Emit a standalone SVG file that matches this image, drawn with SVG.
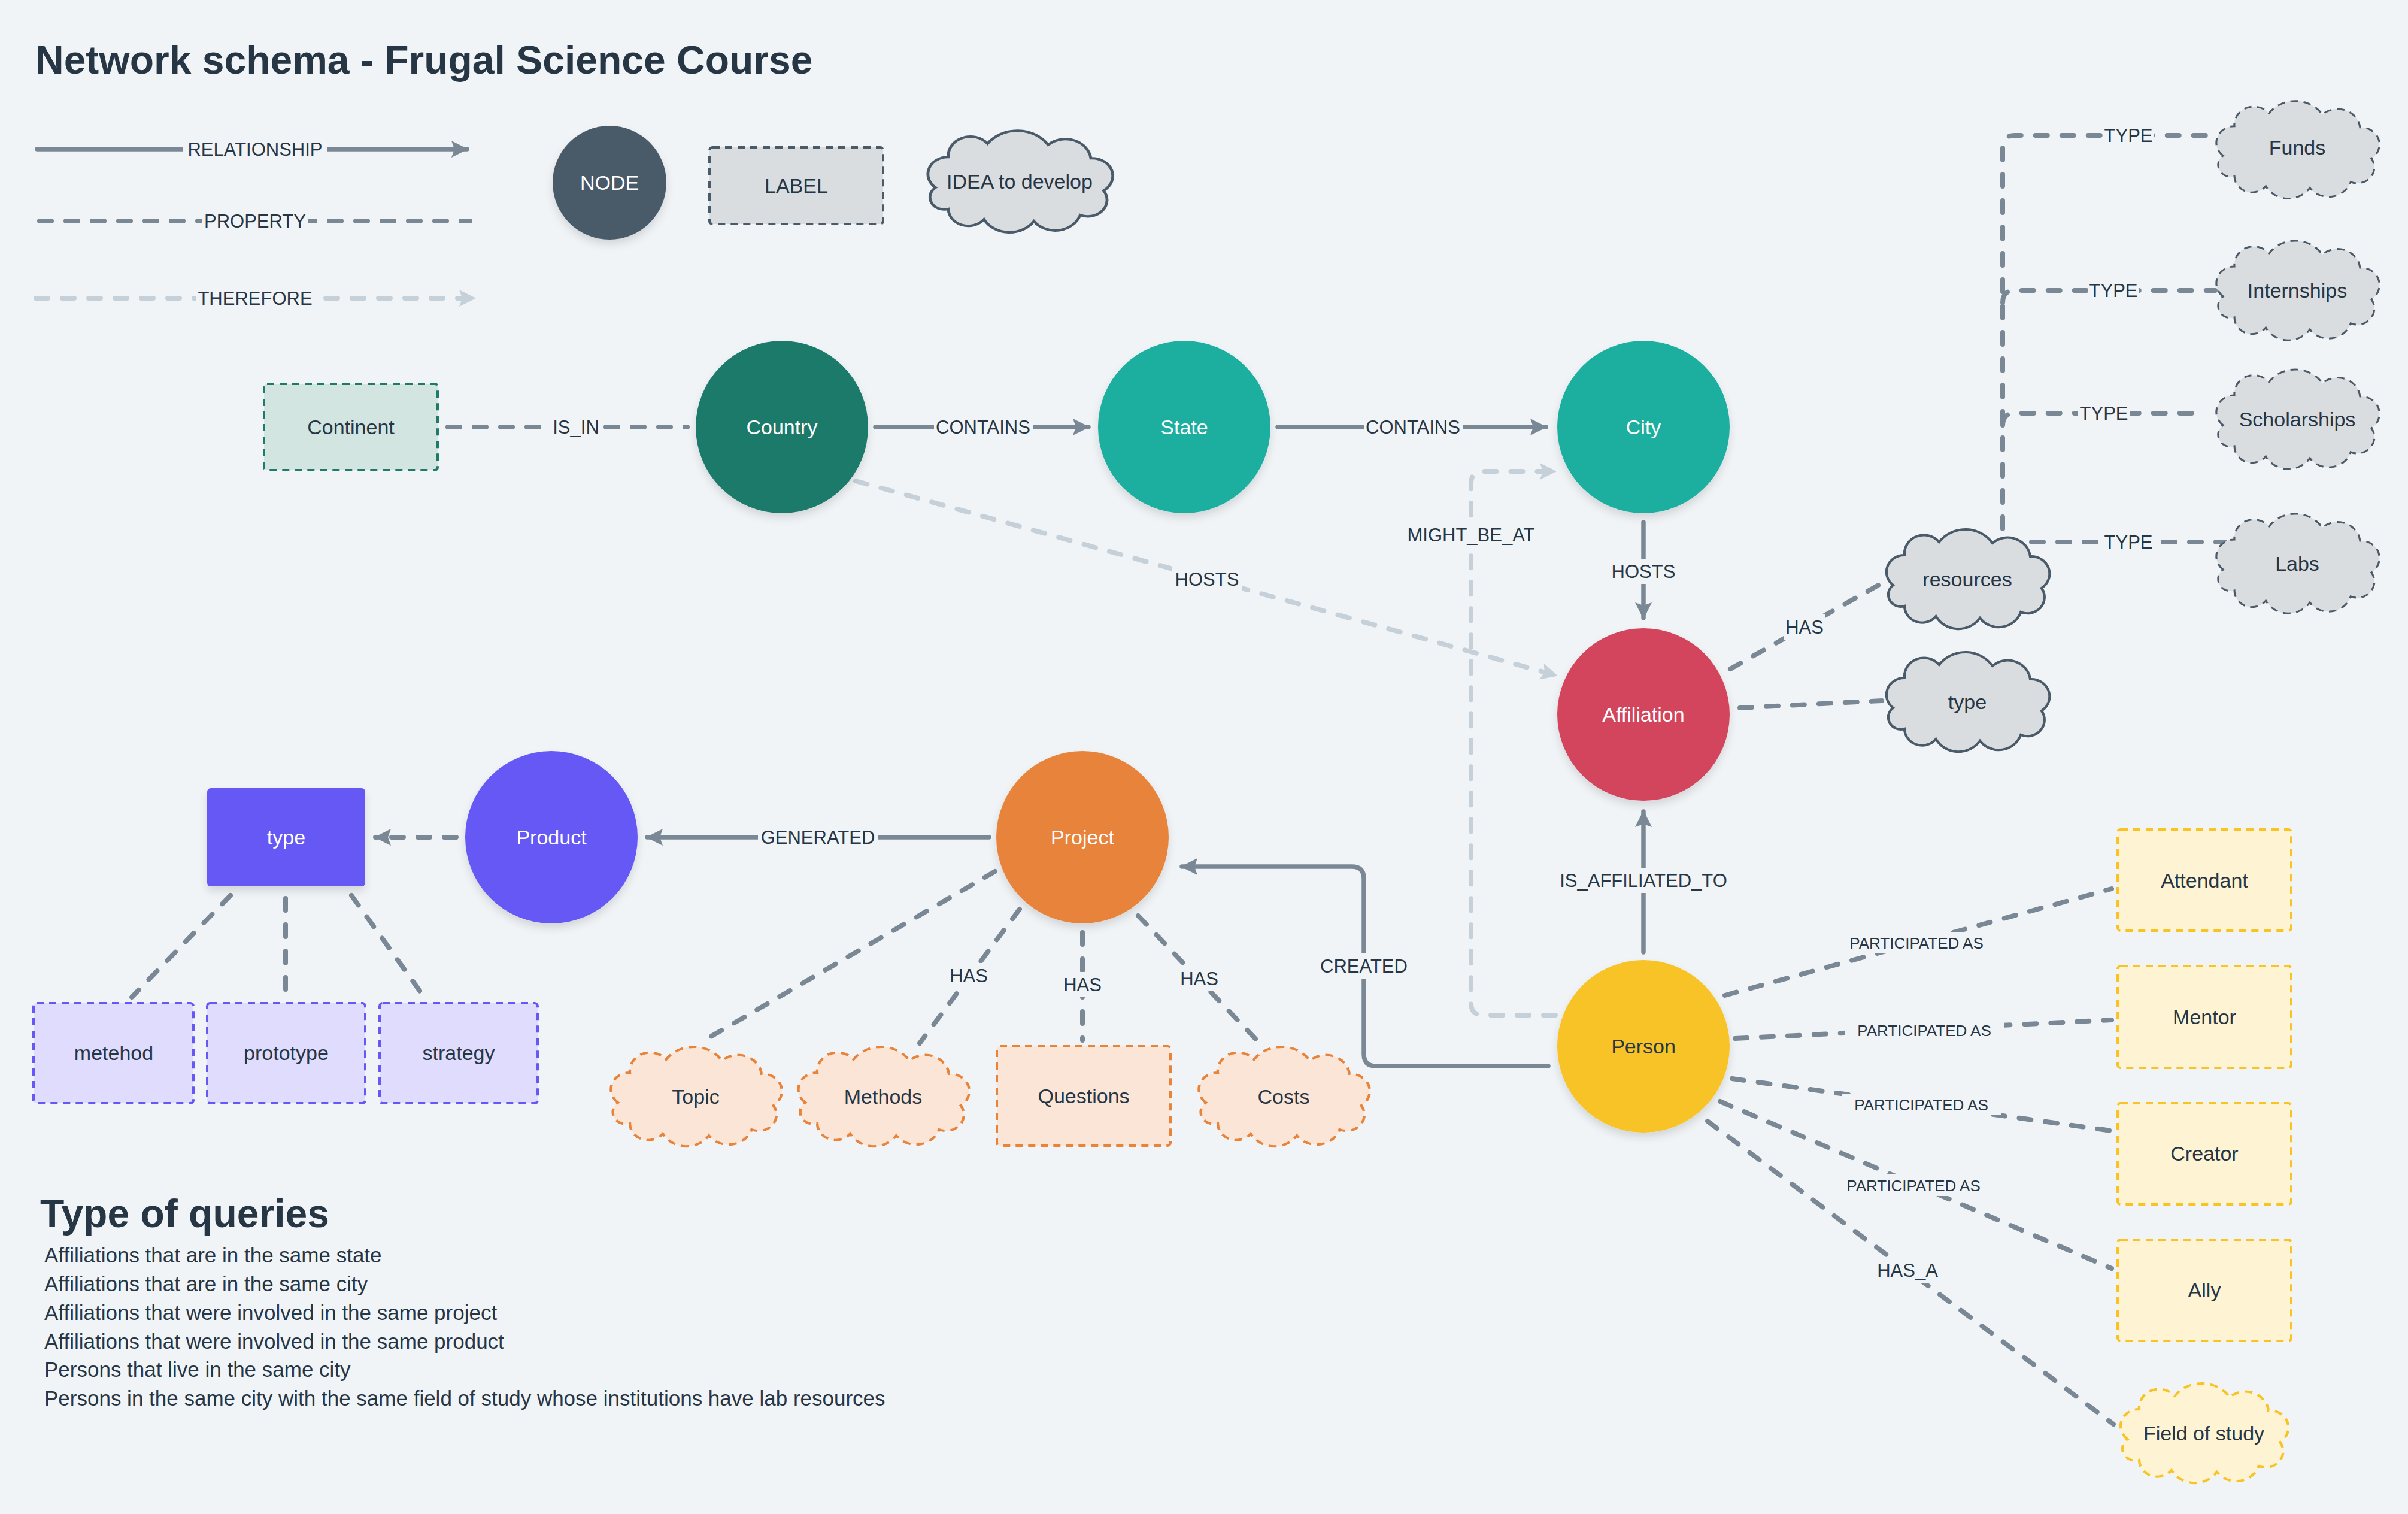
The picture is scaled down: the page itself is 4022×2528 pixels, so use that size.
<svg xmlns="http://www.w3.org/2000/svg" width="4022" height="2528" viewBox="0 0 4022 2528">
<style>
.t{font-family:"Liberation Sans",Arial,sans-serif;fill:#263645}
.el{font-size:31px;text-anchor:middle}
.ps{font-size:26px;text-anchor:middle}
.nt{font-size:34px;text-anchor:middle}
.q{font-size:35px}
.w{fill:#ffffff}
.lbg{fill:#f1f4f7}
.rel{stroke:#7a8896;stroke-width:7.5;fill:none;stroke-linecap:round}
.prop{stroke:#7a8896;stroke-width:8;fill:none;stroke-linecap:round;stroke-dasharray:20 24}
.ther{stroke:#c5d0d9;stroke-width:8;fill:none;stroke-linecap:round;stroke-dasharray:20 24}
.gcs{fill:#dadde0;stroke:#4a5a69;stroke-width:4}
.gcd{fill:#dadde0;stroke:#4a5a69;stroke-width:3;stroke-dasharray:12 9}
.ocd{fill:#fbe5d7;stroke:#e8833a;stroke-width:4;stroke-dasharray:12 9}
.ycd{fill:#fef3d3;stroke:#f7c325;stroke-width:4;stroke-dasharray:12 9}
.prd{fill:#e0dcfd;stroke:#6558f5;stroke-width:4;stroke-dasharray:12 9}
.yrd{fill:#fef3d3;stroke:#f7c325;stroke-width:4;stroke-dasharray:12 9}
.ord{fill:#fbe5d7;stroke:#e8833a;stroke-width:4;stroke-dasharray:12 9}
.sh{filter:url(#shadow)}
</style>
<defs>
<filter id="shadow" x="-20%" y="-20%" width="140%" height="150%">
<feDropShadow dx="0" dy="8" stdDeviation="7" flood-color="#000" flood-opacity="0.12"/>
</filter>
<path id="cloud" d="M-118,10 A28,28 0 0 1 -100,-40 A31,31 0 0 1 -45,-62 A52,52 0 0 1 40,-60 A36,36 0 0 1 100,-38 A29,29 0 0 1 118,15 A27,27 0 0 1 85,55 A37,37 0 0 1 20,65 A41,41 0 0 1 -50,62 A28,28 0 0 1 -100,45 A20,20 0 0 1 -118,10 Z"/>
<marker id="ar" markerUnits="userSpaceOnUse" markerWidth="30" markerHeight="30" viewBox="0 0 30 30" refX="26" refY="15" orient="auto">
<path d="M0,1 L28,15 L0,29 L5,15 Z" fill="#7a8896"/>
</marker>
<marker id="at" markerUnits="userSpaceOnUse" markerWidth="30" markerHeight="30" viewBox="0 0 30 30" refX="26" refY="15" orient="auto">
<path d="M0,1 L28,15 L0,29 L5,15 Z" fill="#c5d0d9"/>
</marker>
</defs>
<rect width="4022" height="2528" fill="#f1f4f7"/>

<text class="t" x="59" y="123" font-size="66" font-weight="bold">Network schema - Frugal Science Course</text>

<g id="legend">
<line class="rel" x1="62" y1="249" x2="780" y2="249" marker-end="url(#ar)"/>
<rect class="lbg" x="305" y="228" width="242" height="42"/>
<text class="t el" x="426" y="260">RELATIONSHIP</text>
<line class="prop" x1="66" y1="369" x2="785" y2="369"/>
<rect class="lbg" x="338" y="348" width="176" height="42"/>
<text class="t el" x="426" y="380">PROPERTY</text>
<line class="ther" x1="60" y1="498" x2="793" y2="498" marker-end="url(#at)"/>
<rect class="lbg" x="328" y="477" width="196" height="42"/>
<text class="t el" x="426" y="509">THEREFORE</text>
<g id="legend-node"><circle class="sh" cx="1018" cy="305" r="95" fill="#4a5a69"/><text class="t nt w" x="1018" y="317">NODE</text></g>
<g id="legend-label"><rect x="1185" y="246" width="290" height="128" rx="5" fill="#dadde0" stroke="#4a5a69" stroke-width="4" stroke-dasharray="12 9"/><text class="t nt" x="1330" y="322">LABEL</text></g>
<g id="legend-idea"><use href="#cloud" class="gcs" transform="translate(1703,303) scale(1.19,1.02)"/><text class="t nt" x="1703" y="315">IDEA to develop</text></g>
</g>

<g id="connectors">
<line class="prop" x1="748" y1="713" x2="1148" y2="713"/>
<rect class="lbg" x="920" y="692" width="86" height="42"/>
<text class="t el" x="962" y="724">IS_IN</text>
<line class="rel" x1="1462" y1="713" x2="1818" y2="713" marker-end="url(#ar)"/>
<rect class="lbg" x="1560" y="692" width="166" height="42"/>
<text class="t el" x="1642" y="724">CONTAINS</text>
<line class="rel" x1="2134" y1="713" x2="2582" y2="713" marker-end="url(#ar)"/>
<rect class="lbg" x="2278" y="692" width="166" height="42"/>
<text class="t el" x="2360" y="724">CONTAINS</text>
<line class="ther" x1="1429" y1="803" x2="2600" y2="1128" marker-end="url(#at)"/>
<rect class="lbg" x="1958" y="946" width="116" height="42"/>
<text class="t el" x="2016" y="978">HOSTS</text>
<line class="rel" x1="2745" y1="872" x2="2745" y2="1032" marker-end="url(#ar)"/>
<rect class="lbg" x="2688" y="933" width="114" height="42"/>
<text class="t el" x="2745" y="965">HOSTS</text>
<path class="ther" d="M2598,1695 H2477 Q2457,1695 2457,1675 V807 Q2457,787 2477,787 H2598" marker-end="url(#at)"/>
<rect class="lbg" x="2345" y="872" width="224" height="42"/>
<text class="t el" x="2457" y="904">MIGHT_BE_AT</text>
<line class="prop" x1="2890" y1="1117" x2="3148" y2="971"/>
<rect class="lbg" x="2980" y="1026" width="68" height="42"/>
<text class="t el" x="3014" y="1058">HAS</text>
<line class="prop" x1="2906" y1="1182" x2="3143" y2="1170"/>
<path class="prop" d="M3345,883 V246 Q3345,226 3365,226 H3700"/>
<path class="prop" d="M3345,505 Q3345,485 3365,485 H3700"/>
<path class="prop" d="M3345,710 Q3345,690 3365,690 H3680"/>
<line class="prop" x1="3393" y1="905" x2="3716" y2="905"/>
<rect class="lbg" x="3512" y="205" width="86" height="42"/>
<text class="t el" x="3555" y="237">TYPE</text>
<rect class="lbg" x="3487" y="464" width="86" height="42"/>
<text class="t el" x="3530" y="496">TYPE</text>
<rect class="lbg" x="3471" y="669" width="86" height="42"/>
<text class="t el" x="3514" y="701">TYPE</text>
<rect class="lbg" x="3512" y="884" width="86" height="42"/>
<text class="t el" x="3555" y="916">TYPE</text>
<line class="rel" x1="2745" y1="1590" x2="2745" y2="1355" marker-end="url(#ar)"/>
<rect class="lbg" x="2590" y="1449" width="310" height="42"/>
<text class="t el" x="2745" y="1481">IS_AFFILIATED_TO</text>
<path class="rel" d="M2586,1780 H2298 Q2278,1780 2278,1760 V1467 Q2278,1447 2258,1447 H1974" marker-end="url(#ar)"/>
<rect class="lbg" x="2200" y="1592" width="156" height="42"/>
<text class="t el" x="2278" y="1624">CREATED</text>
<line class="rel" x1="1652" y1="1398" x2="1081" y2="1398" marker-end="url(#ar)"/>
<rect class="lbg" x="1266" y="1377" width="200" height="42"/>
<text class="t el" x="1366" y="1409">GENERATED</text>
<line class="prop" x1="762" y1="1398" x2="627" y2="1398" marker-end="url(#ar)"/>
<line class="prop" x1="385" y1="1495" x2="220" y2="1665"/>
<line class="prop" x1="477" y1="1500" x2="477" y2="1652"/>
<line class="prop" x1="587" y1="1495" x2="705" y2="1660"/>
<line class="prop" x1="1662" y1="1455" x2="1180" y2="1735"/>
<line class="prop" x1="1703" y1="1518" x2="1536" y2="1742"/>
<line class="prop" x1="1808" y1="1557" x2="1808" y2="1737"/>
<line class="prop" x1="1901" y1="1529" x2="2104" y2="1742"/>
<rect class="lbg" x="1584" y="1608" width="68" height="42"/>
<text class="t el" x="1618" y="1640">HAS</text>
<rect class="lbg" x="1774" y="1623" width="68" height="42"/>
<text class="t el" x="1808" y="1655">HAS</text>
<rect class="lbg" x="1969" y="1613" width="68" height="42"/>
<text class="t el" x="2003" y="1645">HAS</text>
<line class="prop" x1="2881" y1="1662" x2="3527" y2="1484"/>
<line class="prop" x1="2898" y1="1734" x2="3527" y2="1703"/>
<line class="prop" x1="2893" y1="1801" x2="3527" y2="1888"/>
<line class="prop" x1="2873" y1="1839" x2="3527" y2="2118"/>
<line class="prop" x1="2852" y1="1872" x2="3530" y2="2378"/>
<rect class="lbg" x="3068" y="1556" width="266" height="36"/>
<text class="t ps" x="3201" y="1584">PARTICIPATED AS</text>
<rect class="lbg" x="3081" y="1702" width="266" height="36"/>
<text class="t ps" x="3214" y="1730">PARTICIPATED AS</text>
<rect class="lbg" x="3076" y="1826" width="266" height="36"/>
<text class="t ps" x="3209" y="1854">PARTICIPATED AS</text>
<rect class="lbg" x="3063" y="1961" width="266" height="36"/>
<text class="t ps" x="3196" y="1989">PARTICIPATED AS</text>
<rect class="lbg" x="3130" y="2100" width="112" height="42"/>
<text class="t el" x="3186" y="2132">HAS_A</text>
</g>

<g id="n-continent"><rect x="441" y="641" width="290" height="144" rx="5" fill="#d2e5e0" stroke="#1f7a6a" stroke-width="4" stroke-dasharray="12 9"/><text class="t nt" x="586" y="725">Continent</text></g>
<g id="n-country"><circle class="sh" cx="1306" cy="713" r="144" fill="#1f7a6a"/><text class="t nt w" x="1306" y="725">Country</text></g>
<g id="n-state"><circle class="sh" cx="1978" cy="713" r="144" fill="#1aae9f"/><text class="t nt w" x="1978" y="725">State</text></g>
<g id="n-city"><circle class="sh" cx="2745" cy="713" r="144" fill="#1aae9f"/><text class="t nt w" x="2745" y="725">City</text></g>
<g id="n-affiliation"><circle class="sh" cx="2745" cy="1193" r="144" fill="#d3455b"/><text class="t nt w" x="2745" y="1205">Affiliation</text></g>
<g id="n-person"><circle class="sh" cx="2745" cy="1747" r="144" fill="#f7c325"/><text class="t nt" x="2745" y="1759">Person</text></g>
<g id="n-project"><circle class="sh" cx="1808" cy="1398" r="144" fill="#e8833a"/><text class="t nt w" x="1808" y="1410">Project</text></g>
<g id="n-product"><circle class="sh" cx="921" cy="1398" r="144" fill="#6558f5"/><text class="t nt w" x="921" y="1410">Product</text></g>
<g id="n-ptype"><rect class="sh" x="346" y="1316" width="264" height="164" rx="6" fill="#6558f5"/><text class="t nt w" x="478" y="1410">type</text></g>
<g id="n-metehod"><rect class="prd" x="56" y="1675" width="267" height="167" rx="5"/><text class="t nt" x="190" y="1770">metehod</text></g>
<g id="n-prototype"><rect class="prd" x="346" y="1675" width="264" height="167" rx="5"/><text class="t nt" x="478" y="1770">prototype</text></g>
<g id="n-strategy"><rect class="prd" x="634" y="1675" width="264" height="167" rx="5"/><text class="t nt" x="766" y="1770">strategy</text></g>
<g id="n-topic"><use href="#cloud" class="ocd" transform="translate(1162,1831) scale(1.1,1)"/><text class="t nt" x="1162" y="1843">Topic</text></g>
<g id="n-methods"><use href="#cloud" class="ocd" transform="translate(1475,1831) scale(1.1,1)"/><text class="t nt" x="1475" y="1843">Methods</text></g>
<g id="n-questions"><rect class="ord" x="1665" y="1747" width="290" height="166" rx="5"/><text class="t nt" x="1810" y="1842">Questions</text></g>
<g id="n-costs"><use href="#cloud" class="ocd" transform="translate(2144,1831) scale(1.1,1)"/><text class="t nt" x="2144" y="1843">Costs</text></g>
<g id="n-resources"><use href="#cloud" class="gcs" transform="translate(3286,967) scale(1.05,1)"/><text class="t nt" x="3286" y="979">resources</text></g>
<g id="n-atype"><use href="#cloud" class="gcs" transform="translate(3286,1172) scale(1.05,1)"/><text class="t nt" x="3286" y="1184">type</text></g>
<g id="n-funds"><use href="#cloud" class="gcd" transform="translate(3837,250) scale(1.05,0.98)"/><text class="t nt" x="3837" y="258">Funds</text></g>
<g id="n-internships"><use href="#cloud" class="gcd" transform="translate(3837,485) scale(1.05,1)"/><text class="t nt" x="3837" y="497">Internships</text></g>
<g id="n-scholarships"><use href="#cloud" class="gcd" transform="translate(3837,700) scale(1.05,1)"/><text class="t nt" x="3837" y="712">Scholarships</text></g>
<g id="n-labs"><use href="#cloud" class="gcd" transform="translate(3837,941) scale(1.05,1)"/><text class="t nt" x="3837" y="953">Labs</text></g>
<g id="n-attendant"><rect class="yrd" x="3537" y="1385" width="290" height="169" rx="5"/><text class="t nt" x="3682" y="1482">Attendant</text></g>
<g id="n-mentor"><rect class="yrd" x="3537" y="1613" width="290" height="170" rx="5"/><text class="t nt" x="3682" y="1710">Mentor</text></g>
<g id="n-creator"><rect class="yrd" x="3537" y="1842" width="290" height="169" rx="5"/><text class="t nt" x="3682" y="1938">Creator</text></g>
<g id="n-ally"><rect class="yrd" x="3537" y="2070" width="290" height="169" rx="5"/><text class="t nt" x="3682" y="2166">Ally</text></g>
<g id="n-field"><use href="#cloud" class="ycd" transform="translate(3681,2393) scale(1.08,1)"/><text class="t nt" x="3681" y="2405">Field of study</text></g>

<g id="queries">
<text class="t" x="67" y="2049" font-size="66" font-weight="bold">Type of queries</text>
<text class="t q" x="74" y="2108">Affiliations that are in the same state</text>
<text class="t q" x="74" y="2156">Affiliations that are in the same city</text>
<text class="t q" x="74" y="2204">Affiliations that were involved in the same project</text>
<text class="t q" x="74" y="2252">Affiliations that were involved in the same product</text>
<text class="t q" x="74" y="2299">Persons that live in the same city</text>
<text class="t q" x="74" y="2347">Persons in the same city with the same field of study whose institutions have lab resources</text>
</g>
</svg>
